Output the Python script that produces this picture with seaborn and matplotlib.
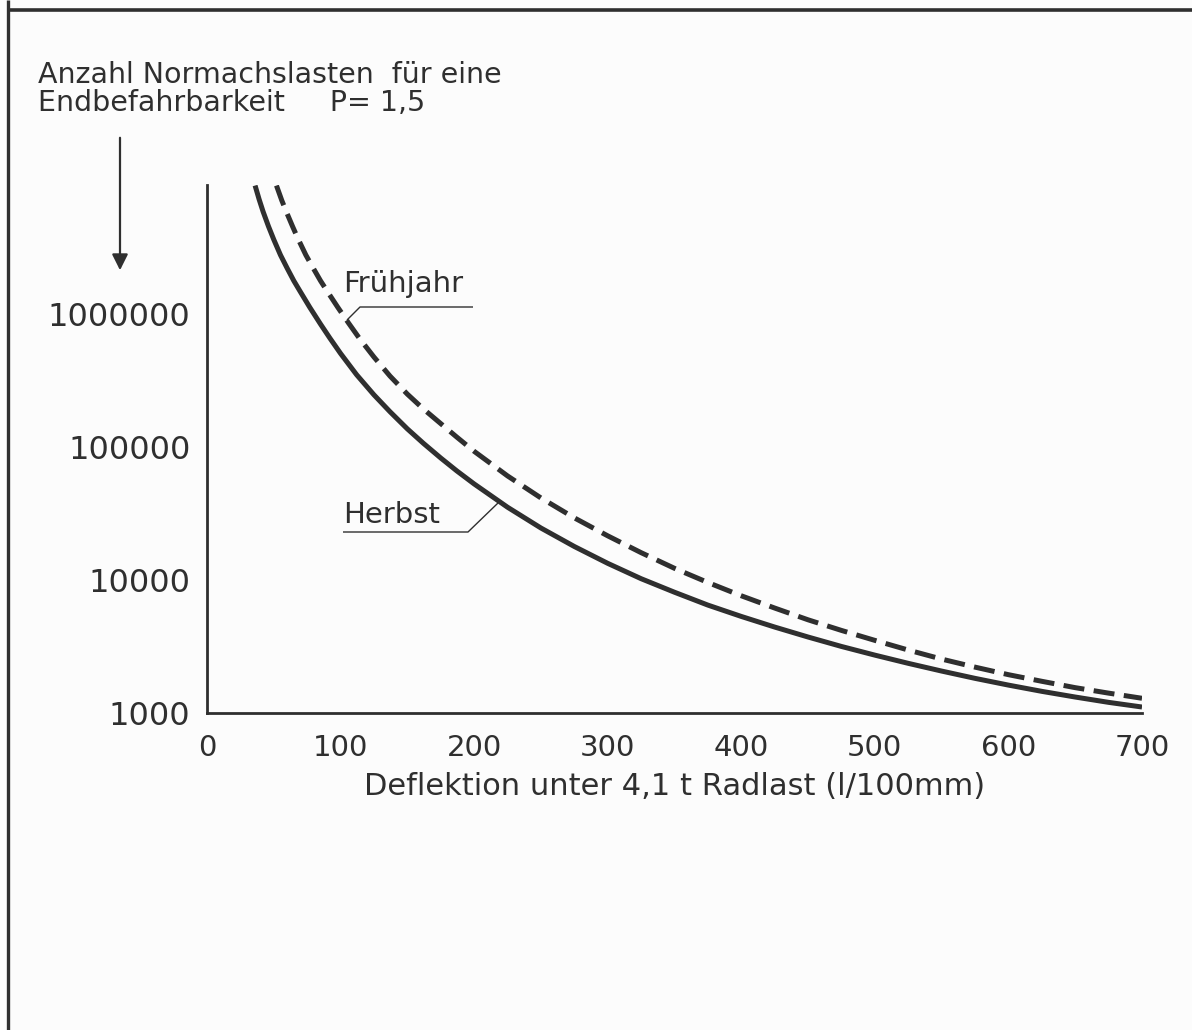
import numpy as np
import pandas as pd
import matplotlib
matplotlib.use("Agg")
import matplotlib.pyplot as plt
from matplotlib.lines import Line2D
from matplotlib.patches import FancyArrowPatch
import seaborn as sns

# ---- data ----
herbst_x = [36, 39, 42, 46, 50, 55, 60, 65, 70, 77, 85, 92, 100, 112, 125, 137,
            150, 162, 175, 187, 200, 225, 250, 275, 300, 325, 350, 375, 400,
            425, 450, 475, 500, 525, 550, 575, 600, 625, 650, 675, 700]
herbst_y = [9140000, 7210000, 5820000, 4520000, 3590000, 2750000, 2190000,
            1760000, 1450000, 1110000, 832000, 653000, 501000, 347000, 245000,
            183000, 136000, 106000, 82200, 65800, 52500, 35100, 24500, 17800,
            13300, 10200, 8070, 6460, 5310, 4420, 3720, 3160, 2720, 2360, 2065,
            1820, 1620, 1454, 1318, 1202, 1109]
fruehjahr_x = [52, 56, 60, 64, 68, 74, 80, 85, 90, 98, 106, 114, 125, 137, 150,
               162, 175, 187, 200, 225, 250, 275, 300, 325, 350, 375, 400, 425,
               450, 475, 500, 525, 550, 575, 600, 625, 650, 675, 700]
fruehjahr_y = [9140000, 7060000, 5620000, 4520000, 3670000, 2750000, 2150000,
               1760000, 1470000, 1110000, 847000, 653000, 471000, 339000,
               248000, 192000, 149000, 118000, 92300, 60300, 41200, 29200,
               21400, 16000, 12200, 9550, 7590, 6140, 5010, 4170, 3510, 2970,
               2540, 2210, 1940, 1730, 1550, 1410, 1290]
x_ticks = [0, 100, 200, 300, 400, 500, 600, 700]
y_ticks = [1000, 10000, 100000, 1000000]
y_tick_labels = ["1000", "10000", "100000", "1000000"]
x_label = "Deflektion unter 4,1 t Radlast (l/100mm)"
y_title = "Anzahl Normachslasten  für eine\nEndbefahrbarkeit     P= 1,5"

df = pd.concat([
    pd.DataFrame({"x": herbst_x, "y": herbst_y, "Saison": "Herbst"}),
    pd.DataFrame({"x": fruehjahr_x, "y": fruehjahr_y, "Saison": "Frühjahr"}),
])

sns.set_theme(style="white")
ink = "#2f2f2f"
plt.rcParams["font.family"] = ["DejaVu Sans"]
plt.rcParams["text.color"] = ink
plt.rcParams["axes.labelcolor"] = ink
plt.rcParams["xtick.color"] = ink
plt.rcParams["ytick.color"] = ink
plt.rcParams["lines.solid_joinstyle"] = "round"
plt.rcParams["lines.solid_capstyle"] = "butt"

W, H = 1192, 1030
fig = plt.figure(figsize=(W / 100, H / 100), dpi=100, facecolor="#fcfcfc")
ax = fig.add_axes([207 / W, 1 - 713 / H, (1142 - 207) / W, (713 - 185) / H])
ax.set_facecolor("none")

sns.lineplot(data=df, x="x", y="y", style="Saison", hue="Saison",
             palette={"Herbst": ink, "Frühjahr": ink},
             dashes={"Herbst": "", "Frühjahr": (4.2, 1.9)},
             linewidth=3.6, legend=False, ax=ax, sort=True)

ax.set_yscale("log")
ax.set_xlim(0, 700)
ax.set_ylim(1000, 10 ** 6.965)
ax.set_xticks(x_ticks)
ax.set_xticklabels([str(v) for v in x_ticks], fontsize=21)
ax.set_yticks(y_ticks)
ax.set_yticklabels(y_tick_labels, fontsize=23)
ax.minorticks_off()
ax.tick_params(axis="x", direction="out", length=7, width=1.6, pad=8)
ax.tick_params(axis="y", direction="out", length=8, width=1.6, pad=4)
ax.set_xlabel(x_label, fontsize=22, labelpad=7)
ax.set_ylabel("")
for s in ["top", "right"]:
    ax.spines[s].set_visible(False)
for s in ["left", "bottom"]:
    ax.spines[s].set_color(ink)
    ax.spines[s].set_linewidth(2.0)


def fx(px):
    return px / W


def fy(py):
    return 1 - py / H


# curve labels with leader lines
fig.text(fx(343), fy(284), "Frühjahr", fontsize=21, va="center", ha="left")
fig.add_artist(Line2D([fx(473), fx(360), fx(347)], [fy(307), fy(307), fy(320)],
                      color=ink, lw=1.0))
fig.text(fx(343), fy(515), "Herbst", fontsize=21, va="center", ha="left")
fig.add_artist(Line2D([fx(343), fx(468), fx(498)], [fy(532), fy(532), fy(503)],
                      color=ink, lw=1.0))

# axis title at top left with arrow
fig.text(fx(38), fy(89), y_title, fontsize=20.5, va="center", ha="left",
         linespacing=1.0)
fig.add_artist(FancyArrowPatch(
    (fx(120), fy(135)), (fx(120), fy(273)), transform=fig.transFigure,
    arrowstyle="-|>", mutation_scale=24, lw=1.6, color=ink))

# page frame
fig.add_artist(Line2D([fx(8), fx(8)], [0, 1], color=ink, lw=2.4))
fig.add_artist(Line2D([fx(8), 1], [fy(10), fy(10)], color=ink, lw=2.6))

fig.savefig("out.png", dpi=100, facecolor=fig.get_facecolor())
